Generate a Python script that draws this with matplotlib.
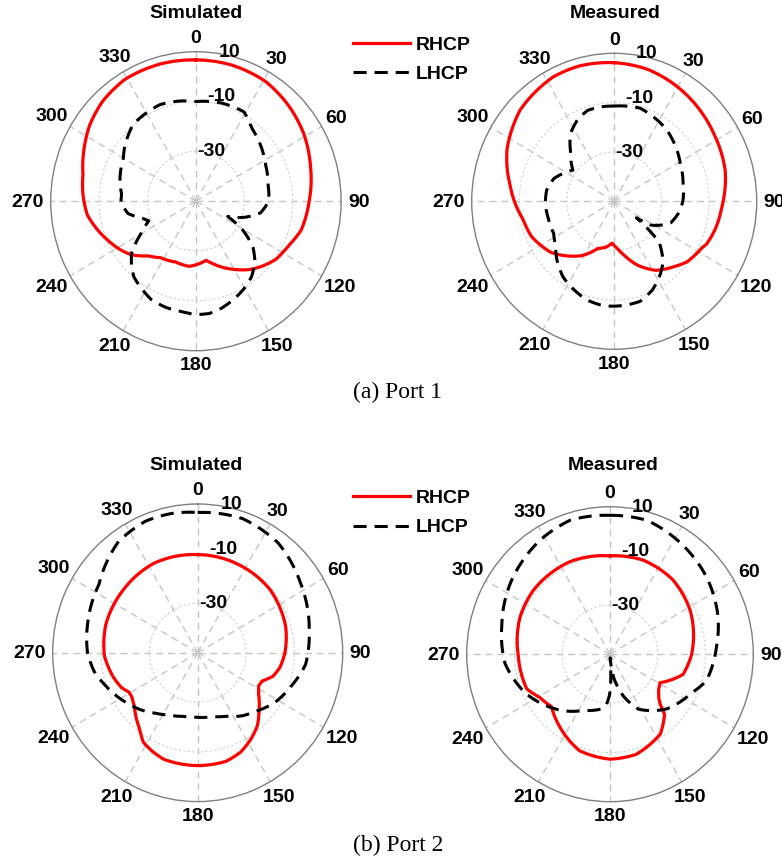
import numpy as np
import matplotlib
matplotlib.use("Agg")
import matplotlib.pyplot as plt

plt.rcParams['font.family'] = ['Liberation Sans', 'DejaVu Sans']

# angular ticks (deg, clockwise from top) and radial rings (dB)
theta_ticks = list(range(0, 360, 30))
r_rings = [-30, -10]
r_text = ['-30', '-10', '10']
r_text_pos = [(18, -29.2), (14, -6.9), (13, 11.4)]   # (deg, dB) where ring labels sit

# ---- Port 1, simulated ----
p1s_rhcp_ang = [0, 15, 31, 45, 59, 74, 90, 105, 114, 119, 125, 133, 141, 149, 157, 165, 170, 176,
                186, 199, 213, 222, 231, 238, 246, 255, 263, 273, 283, 293, 305, 316, 329, 345, 360]
p1s_rhcp_db = [6.7, 6.6, 6.0, 4.2, 2.1, -0.7, -3.2, -5.0, -7.5, -8.5, -9.5, -12.0, -14.7, -18.0, -21.1,
               -24.2, -25.9, -25.0, -23.7, -24.2, -23.0, -20.5, -15.8, -13.2, -10.6, -7.5, -4.8, -3.3,
               -2.1, 0.4, 3.5, 5.6, 7.0, 7.0, 6.7]
p1s_lhcp_ang = [0, 15, 29, 38, 43, 63, 78, 85, 92, 100, 108, 115, 121, 128, 135, 143, 151, 159, 166,
                173, 180, 187, 196, 205, 212, 220, 226, 232, 241, 248, 253, 260, 269, 275, 287, 300,
                306, 320, 339, 350, 360]
p1s_lhcp_db = [-10.0, -9.2, -9.0, -12.6, -13.7, -17.7, -19.5, -19.7, -20.5, -22.9, -29.0, -35.5, -27.3,
               -20.1, -15.5, -11.9, -9.5, -7.5, -5.8, -4.6, -4.5, -5.3, -5.6, -6.4, -8.2, -10.2, -13.0,
               -16.3, -24.6, -29.0, -26.8, -21.5, -19.0, -19.2, -17.2, -15.4, -13.5, -9.7, -8.5, -9.2,
               -10.0]

# ---- Port 1, measured ----
p1m_rhcp_ang = [0, 15, 30, 45, 57, 75, 93, 105, 114, 117, 129, 136, 148, 159, 169, 176, 183, 190,
                200, 212, 220, 232, 248, 259, 268, 278, 295, 313, 333, 345, 360]
p1m_rhcp_db = [6.2, 5.3, 3.5, 1.6, 0.1, -1.6, -4.6, -6.0, -7.4, -8.5, -10.8, -13.3, -17.0, -22.2,
               -27.7, -30.8, -33.0, -31.2, -29.6, -24.0, -21.0, -16.3, -12.3, -11.0, -8.5, -5.8, -0.2,
               4.2, 6.6, 6.8, 6.2]
p1m_lhcp_ang = [0, 16, 37, 61, 75, 90, 100, 110, 116, 122, 125.5, 129, 131, 140, 147, 156, 165, 174,
                186, 196, 206, 215, 225, 234, 243, 256, 268, 279, 290, 300, 306, 313, 318, 326, 335,
                343, 352, 360]
p1m_lhcp_db = [-11.4, -10.7, -13.5, -18.2, -20.0, -21.1, -22.5, -24.6, -28.0, -31.8, -38.5, -30.2,
               -25.0, -18.0, -14.5, -10.6, -8.0, -7.6, -7.4, -8.4, -10.5, -12.5, -16.0, -19.5, -21.4,
               -21.4, -21.0, -21.2, -23.0, -26.5, -28.5, -25.0, -22.5, -17.0, -13.5, -11.5, -11.3,
               -11.4]

# ---- Port 2, simulated ----
p2s_rhcp_ang = [0, 24, 50, 74, 90, 100, 107, 113, 118, 123, 132, 140, 148, 156, 165, 180, 198, 205,
                212, 218, 225, 231, 237, 241, 246, 254, 268, 287, 309, 333, 360]
p2s_rhcp_db = [-10.4, -10.6, -10.7, -12.1, -13.9, -15.5, -17.5, -21.0, -21.5, -20.0, -15.8, -11.6,
               -8.7, -6.2, -4.7, -4.5, -4.8, -6.0, -7.5, -11.0, -13.8, -16.2, -17.5, -17.4, -15.5,
               -13.8, -11.4, -10.3, -10.1, -9.6, -10.4]
p2s_lhcp_ang = [0, 19, 37, 57, 79, 96, 109, 122, 135, 144, 155, 166, 180, 193, 205, 215, 226, 236,
                250, 260, 270, 285, 304, 324, 338, 350, 360]
p2s_lhcp_db = [6.6, 7.2, 5.4, 0.9, -3.0, -5.1, -9.0, -12.3, -16.5, -18.6, -21.8, -23.5, -24.0, -23.7,
               -22.3, -20.2, -17.0, -14.2, -9.9, -6.5, -4.4, -2.9, -0.7, 5.6, 7.3, 7.2, 6.6]

# ---- Port 2, measured ----
p2m_rhcp_ang = [0, 20, 41, 62, 83, 90, 97, 105, 113, 119, 126, 131, 134, 137, 147, 165, 180, 198,
                215, 229, 239, 248, 269, 292, 309, 336, 360]
p2m_rhcp_db = [-10.0, -9.3, -9.9, -12.0, -14.9, -15.8, -17.0, -18.3, -22.8, -26.1, -24.9, -23.0,
               -20.9, -16.5, -11.3, -7.8, -7.3, -8.7, -13.6, -17.5, -15.8, -12.4, -11.6, -9.4, -8.7,
               -8.8, -10.0]
p2m_lhcp_ang = [0, 16, 28, 52, 71, 86, 105, 115, 133, 152, 162, 166, 170, 174, 176.5, 177.5, 179,
                181, 184, 190, 206, 229, 246, 265, 284, 305, 328, 343, 360]
p2m_lhcp_db = [6.5, 6.6, 4.8, 1.2, -2.2, -5.3, -8.2, -12.5, -17.4, -24.7, -32.2, -36.0, -39.5, -44.5,
               -48.5, -42.0, -36.5, -33.0, -29.6, -27.3, -24.6, -17.0, -11.2, -5.9, -3.3, 0.8, 4.9,
               7.0, 6.5]

W, H = 782, 863
fig = plt.figure(figsize=(W / 100, H / 100), dpi=100)
fig.patch.set_facecolor('white')


def rect_px(cx, cy, rx, ry):
    # axes rectangle from a circle centre/radii given in image pixels
    return [(cx - rx) / W, (H - cy - ry) / H, 2 * rx / W, 2 * ry / H]


def polar_panel(rect, rh_ang, rh_db, lh_ang, lh_db):
    ax = fig.add_axes(rect, projection='polar')
    ax.set_aspect('auto')
    ax.set_theta_zero_location('N')
    ax.set_theta_direction(-1)
    ax.set_xticks(np.deg2rad(theta_ticks))
    ax.set_xticklabels([])
    ax.set_yticks(r_rings)
    ax.set_yticklabels([])
    ax.tick_params(length=0)
    ax.xaxis.grid(True, color='#c6c6c6', linestyle=(0, (5, 3.5)), linewidth=1.0)
    ax.yaxis.grid(True, color='#cfcfcf', linestyle=(0, (2, 2)), linewidth=0.8)
    ax.spines['polar'].set_color('#7f7f7f')
    ax.spines['polar'].set_linewidth(1.0)

    l1, = ax.plot(np.deg2rad(rh_ang), rh_db, color='#ff0000', lw=2.3, label='RHCP', zorder=3)
    l2, = ax.plot(np.deg2rad(lh_ang), lh_db, color='black', lw=2.2,
                  linestyle=(0, (4.3, 2.6)), label='LHCP', zorder=4)
    # let the polar transform draw each segment as a (theta, r) arc rather than a chord
    for ln in (l1, l2):
        ln.get_path()._interpolation_steps = 40
    ax.set_ylim(-50, 10)

    # angle labels just outside the rim
    for t in theta_ticks:
        s = str(t)
        w = 10.8 * len(s)
        h = 14.0
        a = np.deg2rad(t)
        d = 7 + np.hypot(w / 2 * np.sin(a), h / 2 * np.cos(a))
        ax.annotate(s, xy=(a, 10), xytext=(d * np.sin(a) * 0.72, d * np.cos(a) * 0.72 - 0.7),
                    textcoords='offset points', ha='center', va='center',
                    fontsize=14, fontweight='bold', annotation_clip=False)
    for s, (t, r) in zip(r_text, r_text_pos):
        ax.text(np.deg2rad(t), r, s, ha='center', va='center', fontsize=14,
                fontweight='bold', zorder=5)
    return ax, l1, l2


ax1, h_r, h_l = polar_panel(rect_px(195.9, 201.2, 145.2, 149.5),
                            p1s_rhcp_ang, p1s_rhcp_db, p1s_lhcp_ang, p1s_lhcp_db)
ax2, _, _ = polar_panel(rect_px(614.2, 201.3, 142.5, 148.0),
                        p1m_rhcp_ang, p1m_rhcp_db, p1m_lhcp_ang, p1m_lhcp_db)
ax3, _, _ = polar_panel(rect_px(197.7, 652.8, 145.0, 148.8),
                        p2s_rhcp_ang, p2s_rhcp_db, p2s_lhcp_ang, p2s_lhcp_db)
ax4, _, _ = polar_panel(rect_px(610.0, 654.2, 143.3, 147.5),
                        p2m_rhcp_ang, p2m_rhcp_db, p2m_lhcp_ang, p2m_lhcp_db)

# panel titles
for x, y, s in [(196, 14, 'Simulated'), (615, 13, 'Measured'),
                (196, 465, 'Simulated'), (613, 465, 'Measured')]:
    fig.text(x / W, 1 - y / H, s, ha='center', va='center', fontsize=14, fontweight='bold')

# legends between the panels
for yc in [59.5, 513]:
    fig.legend([h_r, h_l], ['RHCP', 'LHCP'], loc='center left',
               bbox_to_anchor=(353 / W, 1 - yc / H), frameon=False,
               handlelength=2.93, handletextpad=0.31, labelspacing=0.6,
               borderpad=0, borderaxespad=0, prop={'weight': 'bold', 'size': 14})

# captions
serif = ['Liberation Serif', 'DejaVu Serif']
fig.text(398 / W, 1 - 392 / H, '(a) Port 1', ha='center', va='center', fontsize=17, family=serif)
fig.text(398 / W, 1 - 845 / H, '(b) Port 2', ha='center', va='center', fontsize=17, family=serif)

fig.savefig('out.png', dpi=100, facecolor='white')
